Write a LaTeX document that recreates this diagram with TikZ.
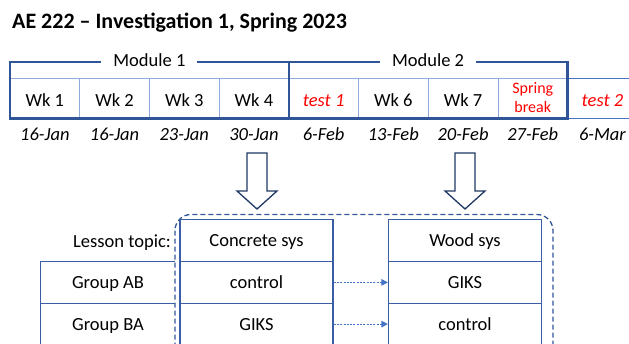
\documentclass[tikz,border=0pt]{standalone}
\usepackage{fontspec}
\setmainfont{Carlito}
\usetikzlibrary{arrows.meta}
\definecolor{frameblue}{HTML}{2F5597}
\definecolor{lightline}{HTML}{8FAADC}
\definecolor{midblue}{HTML}{4472C4}
\definecolor{navy}{HTML}{203864}
\definecolor{tblblue}{HTML}{3A5DA6}
\definecolor{redtext}{HTML}{FF0000}
\begin{document}
\begin{tikzpicture}[x=1pt,y=-1pt,
  cell/.style={draw=lightline, line width=0.8pt, minimum width=69.7pt, minimum height=40.5pt,
    inner sep=0pt, text height=16.5pt, text depth=0pt, font=\fontsize{18.5}{20}\selectfont},
  lastcell/.style={cell, draw=midblue},
  datetxt/.style={anchor=base, inner sep=0pt, font=\fontsize{18.5}{20}\selectfont\itshape},
  modframe/.style={draw=frameblue, line width=2.6pt},
  modlabel/.style={anchor=base, fill=white, inner xsep=12pt, inner ysep=4pt, font=\fontsize{18.5}{20}\selectfont},
  tbl/.style={draw=tblblue, line width=1.2pt, minimum width=153pt, minimum height=41.7pt,
    inner sep=0pt, text height=12pt, text depth=0pt, font=\fontsize{18.5}{20}\selectfont},
  grp/.style={minimum width=134pt, minimum height=41.7pt, inner sep=0pt,
    text height=12pt, text depth=0pt, font=\fontsize{18.5}{20}\selectfont},
  tblline/.style={draw=tblblue, line width=1.2pt},
  blockarrow/.style={draw=navy, line width=1.3pt, fill=white, line join=miter},
  dashbox/.style={draw=frameblue, line width=1.3pt, dash pattern=on 5pt off 3pt, rounded corners=16pt},
  dotarrow/.style={draw=midblue, line width=1pt, dash pattern=on 2pt off 1.3pt,
    -{Triangle[length=6.5pt,width=6.5pt,fill=midblue]}}
]
\clip (0,0) rectangle (629,343);

% title
\node[anchor=base west, inner sep=0pt, font=\fontsize{22}{24}\selectfont\bfseries] (title) at (12,28) {AE 222 – Investigation 1, Spring 2023};

% week cells
\node[cell] (wk1) at (44.85,98.25) {Wk 1};
\node[cell] (wk2) at (114.55,98.25) {Wk 2};
\node[cell] (wk3) at (184.25,98.25) {Wk 3};
\node[cell] (wk4) at (253.95,98.25) {Wk 4};
\node[cell, text=redtext, font=\fontsize{18.5}{20}\selectfont\itshape] (t1) at (323.65,98.25) {test 1};
\node[cell] (wk6) at (393.35,98.25) {Wk 6};
\node[cell] (wk7) at (463.05,98.25) {Wk 7};
\node[cell] (sb) at (532.75,98.25) {};
\node[align=center, text=redtext, inner sep=0pt, font=\fontsize{16}{19.5}\selectfont] (sbt) at (532.75,97.5) {Spring\\break};
\node[lastcell, text=redtext, font=\fontsize{18.5}{20}\selectfont\itshape] (t2) at (602.45,98.25) {test 2};

% module frames
\draw[modframe] (10,62) rectangle (288.8,118.5);
\draw[modframe] (288.8,62) rectangle (567.5,118.5);
\node[modlabel] (m1) at (149.4,66.5) {Module 1};
\node[modlabel] (m2) at (428.1,66.5) {Module 2};

% dates
\node[datetxt] (d1) at (44.85,140) {16-Jan};
\node[datetxt] (d2) at (114.55,140) {16-Jan};
\node[datetxt] (d3) at (184.25,140) {23-Jan};
\node[datetxt] (d4) at (253.95,140) {30-Jan};
\node[datetxt] (d5) at (323.65,140) {6-Feb};
\node[datetxt] (d6) at (393.35,140) {13-Feb};
\node[datetxt] (d7) at (463.05,140) {20-Feb};
\node[datetxt] (d8) at (532.75,140) {27-Feb};
\node[datetxt] (d9) at (602.45,140) {6-Mar};

% block arrows
\draw[blockarrow] (247,153) -- (267,153) -- (267,191) -- (277,191) -- (257,209) -- (237,191) -- (247,191) -- cycle;
\draw[blockarrow] (455,153) -- (475,153) -- (475,191) -- (485,191) -- (465,209) -- (445,191) -- (455,191) -- cycle;

% dashed group box
\draw[dashbox] (175,214.5) rectangle (553,370);

% lesson table
\node[anchor=base east, inner sep=0pt, font=\fontsize{18.5}{20}\selectfont] (lt) at (171,247.5) {Lesson topic:};
\node[grp] (gab) at (108,282.4) {Group AB};
\node[grp] (gba) at (108,324.1) {Group BA};
\draw[tblline] (gab.north east) -- (gab.north west) -- (gba.south west);
\draw[tblline] (gab.south west) -- (gab.south east);

\node[tbl] (ct) at (256.5,240.7) {Concrete sys};
\node[tbl] (c1) at (256.5,282.4) {control};
\node[tbl] (c2) at (256.5,324.1) {GIKS};
\node[tbl] (wt) at (465,240.7) {Wood sys};
\node[tbl] (w1) at (465,282.4) {GIKS};
\node[tbl] (w2) at (465,324.1) {control};

\draw[dotarrow] (c1.east) -- (w1.west);
\draw[dotarrow] (c2.east) -- (w2.west);
\end{tikzpicture}
\end{document}
